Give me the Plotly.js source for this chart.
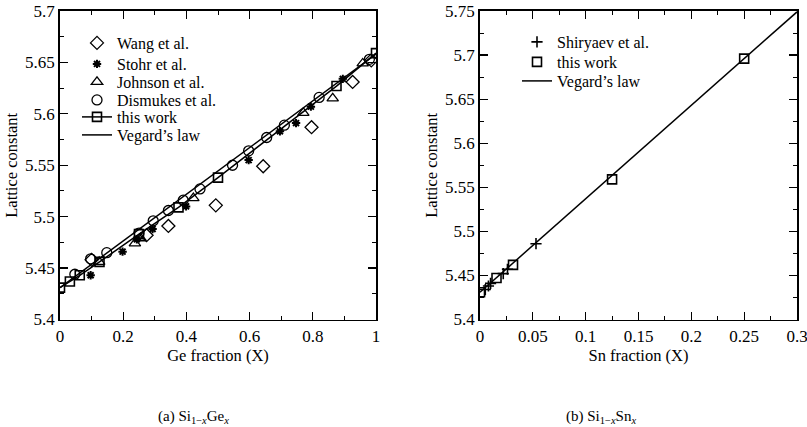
<!DOCTYPE html>
<html>
<head>
<meta charset="utf-8">
<script src="https://cdn.plot.ly/plotly-3.0.1.min.js"></script>
<style>html,body{margin:0;padding:0;background:#fff;}#chart{width:807px;height:427px;}</style>
</head>
<body>
<div id="chart"></div>
<script>
// ---- (a) Si1-xGex ----
const wangX = [0.10, 0.274, 0.343, 0.493, 0.643, 0.796, 0.926, 0.985];
const wangY = [5.458, 5.482, 5.491, 5.511, 5.549, 5.587, 5.631, 5.652];
const stohrX = [0.097, 0.198, 0.243, 0.293, 0.399, 0.597, 0.696, 0.747, 0.794, 0.895];
const stohrY = [5.443, 5.466, 5.478, 5.488, 5.510, 5.555, 5.583, 5.591, 5.607, 5.634];
const johnsonX = [0.124, 0.237, 0.255, 0.422, 0.770, 0.863, 0.958];
const johnsonY = [5.456, 5.474, 5.479, 5.518, 5.601, 5.615, 5.649];
const dismukesX = [0.047, 0.097, 0.148, 0.250, 0.295, 0.343, 0.390, 0.443, 0.546, 0.597, 0.654, 0.710, 0.820, 0.979];
const dismukesY = [5.444, 5.459, 5.465, 5.484, 5.496, 5.506, 5.516, 5.527, 5.550, 5.564, 5.577, 5.589, 5.616, 5.653];
const geWorkX = [0, 0.03125, 0.0625, 0.125, 0.25, 0.375, 0.5, 0.875, 1];
const geWorkY = [5.431, 5.437, 5.443, 5.456, 5.483, 5.509, 5.538, 5.627, 5.659];
const geVegX = [0, 1];
const geVegY = [5.431, 5.658];
// ---- (b) Si1-xSnx ----
const shirX = [0.005, 0.008, 0.010, 0.022, 0.026, 0.053];
const shirY = [5.434, 5.438, 5.441, 5.452, 5.457, 5.486];
const snWorkX = [0, 0.015625, 0.03125, 0.125, 0.25];
const snWorkY = [5.431, 5.447, 5.462, 5.559, 5.696];
const snVegX = [0, 0.3];
const snVegY = [5.431, 5.749];
const snTicks = [0, 0.05, 0.1, 0.15, 0.2, 0.25, 0.3];

const FONT = 'Liberation Serif, Times New Roman, serif';
const H = 427, W = 807;
const open = (sym, size, w) => ({symbol: sym, size: size, color: '#000', line: {color: '#000', width: w || 1.3}});

const traces = [
  {x: wangX, y: wangY, mode: 'markers', name: 'Wang et al.', marker: open('diamond-open', 10), xaxis: 'x', yaxis: 'y', legend: 'legend'},
  {x: stohrX, y: stohrY, mode: 'markers', name: 'Stohr et al.', marker: open('asterisk-open', 7, 2), xaxis: 'x', yaxis: 'y', legend: 'legend2'},
  {x: johnsonX, y: johnsonY, mode: 'markers', name: 'Johnson et al.', marker: open('triangle-up-open', 10), xaxis: 'x', yaxis: 'y', legend: 'legend3'},
  {x: dismukesX, y: dismukesY, mode: 'markers', name: 'Dismukes et al.', marker: open('circle-open', 10), xaxis: 'x', yaxis: 'y', legend: 'legend4'},
  {x: geWorkX, y: geWorkY, mode: 'lines+markers', name: 'this work', line: {color: '#000', width: 1.5}, marker: open('square-open', 9, 1.6), xaxis: 'x', yaxis: 'y', legend: 'legend5'},
  {x: geVegX, y: geVegY, mode: 'lines', name: 'Vegard\u2019s law', line: {color: '#000', width: 1.5}, xaxis: 'x', yaxis: 'y', legend: 'legend6'},
  {x: shirX, y: shirY, mode: 'markers', name: 'Shiryaev et al.', marker: open('cross-thin-open', 8, 1.6), xaxis: 'x2', yaxis: 'y2', legend: 'legend7'},
  {x: snWorkX, y: snWorkY, mode: 'markers', name: 'this work', marker: open('square-open', 9, 1.6), xaxis: 'x2', yaxis: 'y2', legend: 'legend8'},
  {x: snVegX, y: snVegY, mode: 'lines', name: 'Vegard\u2019s law', line: {color: '#000', width: 1.5}, xaxis: 'x2', yaxis: 'y2', legend: 'legend9'}
];

const axBase = {
  showline: true, linecolor: '#000', linewidth: 1.8, mirror: 'ticks',
  ticks: 'inside', ticklen: 8, tickwidth: 1.2, tickcolor: '#000',
  showgrid: false, zeroline: false, ticklabeloverflow: 'allow',
  tickfont: {family: FONT, size: 17, color: '#000'}
};
const minorT = (d) => ({dtick: d, ticks: 'inside', ticklen: 4, tickcolor: '#000', tickwidth: 1});
const yDom = [(H - 319.5) / H, (H - 11) / H];
const titleFont = {family: FONT, size: 16.5, color: '#000'};

const layout = {
  width: W, height: H,
  margin: {l: 0, r: 0, t: 0, b: 0},
  paper_bgcolor: '#fff', plot_bgcolor: '#fff',
  font: {family: FONT, color: '#000'},
  showlegend: true,
  xaxis: Object.assign({}, axBase, {domain: [60/W, 376/W], range: [0, 1], dtick: 0.2, minor: minorT(0.1),
    title: {text: 'Ge fraction (X)', font: titleFont, standoff: 0}, anchor: 'y'}),
  yaxis: Object.assign({}, axBase, {domain: yDom, range: [5.4, 5.7], dtick: 0.05, minor: minorT(0.025),
    title: {text: 'Lattice constant', font: titleFont, standoff: 3}, anchor: 'x'}),
  xaxis2: Object.assign({}, axBase, {domain: [480/W, 797/W], range: [0, 0.3], tickmode: 'array', tickvals: snTicks,
    ticktext: snTicks.map(String), minor: minorT(0.025),
    title: {text: 'Sn fraction (X)', font: titleFont, standoff: 0}, anchor: 'y2'}),
  yaxis2: Object.assign({}, axBase, {domain: yDom, range: [5.4, 5.75], dtick: 0.05, minor: minorT(0.025),
    title: {text: 'Lattice constant', font: titleFont, standoff: 3}, anchor: 'x2'}),
  annotations: [
    {xref: 'paper', yref: 'paper', x: 193/W, y: (H - 417) / H, xanchor: 'center', yanchor: 'middle', showarrow: false,
     text: '(a) Si<sub>1\u2212<i>x</i></sub>Ge<sub><i>x</i></sub>', font: {family: FONT, size: 15, color: '#000'}},
    {xref: 'paper', yref: 'paper', x: 601/W, y: (H - 417) / H, xanchor: 'center', yanchor: 'middle', showarrow: false,
     text: '(b) Si<sub>1\u2212<i>x</i></sub>Sn<sub><i>x</i></sub>', font: {family: FONT, size: 15, color: '#000'}}
  ]
};

// one legend per entry so row spacing can match the reference
const legLeftX = 77, legRightX = 517;
const rowsLeft = [43, 64, 82, 100, 117, 135];
const rowsRight = [42, 62, 81];
const legSpec = rowsLeft.map(r => [legLeftX, r]).concat(rowsRight.map(r => [legRightX, r]));
legSpec.forEach((p, i) => {
  const key = i === 0 ? 'legend' : 'legend' + (i + 1);
  layout[key] = {x: p[0] / W, y: (H - p[1]) / H, xanchor: 'left', yanchor: 'middle',
    bgcolor: 'rgba(0,0,0,0)', borderwidth: 0, font: {family: FONT, size: 16, color: '#000'}, itemwidth: 30};
});

Plotly.newPlot('chart', traces, layout, {displayModeBar: false, staticPlot: true});
</script>
</body>
</html>
